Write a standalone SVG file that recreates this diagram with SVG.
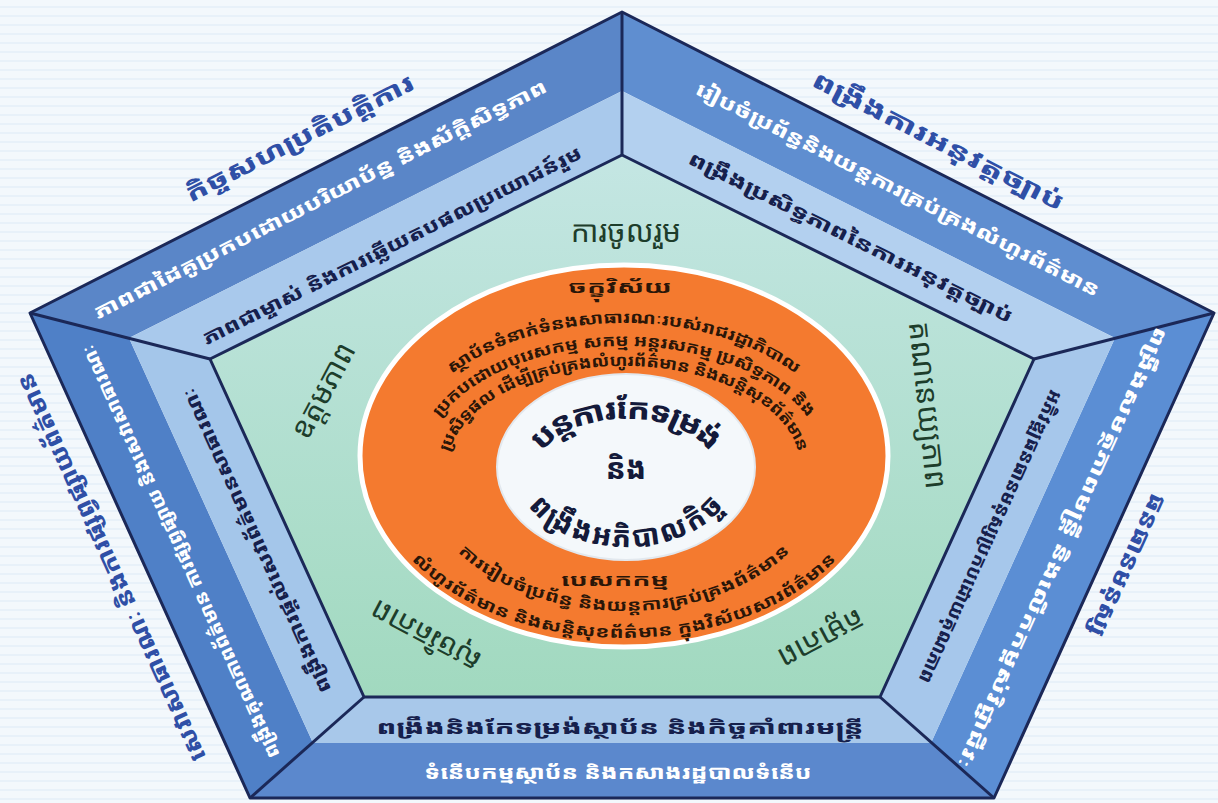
<svg xmlns="http://www.w3.org/2000/svg" width="1218" height="803" viewBox="0 0 1218 803">
<defs>
<style>
text{font-family:"Noto Sans Khmer","Khmer OS","Khmer OS System","Hanuman","Battambang","Noto Sans","DejaVu Sans",sans-serif;}
.lbl{fill:#2f4fa6;font-weight:800;font-size:24px;text-anchor:middle;dominant-baseline:central;}
.wt{fill:#ffffff;font-weight:800;font-size:19px;text-anchor:middle;dominant-baseline:central;}
.dk{fill:#16204c;font-weight:800;font-size:19px;text-anchor:middle;dominant-baseline:central;}
.gr{fill:#1d3d2b;font-size:30px;text-anchor:middle;dominant-baseline:central;}
.or{fill:#2a1608;font-weight:bold;font-size:16px;text-anchor:middle;dominant-baseline:central;}
.ce{fill:#141a3a;font-weight:800;font-size:29px;text-anchor:middle;dominant-baseline:central;}
.edge{fill:none;stroke:#1b2858;stroke-width:3;stroke-linejoin:round;}
</style>
<pattern id="stripes" width="10" height="9" patternUnits="userSpaceOnUse">
<rect width="10" height="9" fill="#f3f8fc"/>
<rect y="6" width="10" height="2" fill="#e8f1f9"/>
</pattern>
<linearGradient id="green" x1="0" y1="0" x2="0" y2="1">
<stop offset="0" stop-color="#c4e6e3"/>
<stop offset="1" stop-color="#a1d9bf"/>
</linearGradient>
<path id="v1" d="M 393,466 A 231,149 0 0 1 855,466"/>
<path id="v2" d="M 417,466 A 207,126 0 0 1 831,466"/>
<path id="v3" d="M 442,466 A 182,106 0 0 1 806,466"/>
<path id="m1" d="M 424,466 A 200,139 0 0 0 824,466"/>
<path id="m2" d="M 377,466 A 247,166 0 0 0 871,466"/>
<path id="c1" d="M 526,467 A 100,60 0 0 1 726,467"/>
<path id="c2" d="M 526,467 A 100,68 0 0 0 726,467"/>
</defs>

<rect width="1218" height="803" fill="url(#stripes)"/>

<g id="frame">
<polygon points="30,313 622,12 622,91 129,338" fill="#5a86c8"/>
<polygon points="129,338 622,91 622,155 210,359" fill="#a9c9ec"/>
<polygon points="622,12 1214,313 1115,338 622,91" fill="#5f8ed0"/>
<polygon points="622,91 1115,338 1034,359 622,155" fill="#b3d0ef"/>
<polygon points="1214,313 994,798 931,743 1115,338" fill="#5b8ed4"/>
<polygon points="1115,338 931,743 880,697 1034,359" fill="#a6c7eb"/>
<polygon points="994,798 250,798 313,743 931,743" fill="#5b88cd"/>
<polygon points="931,743 313,743 364,697 880,697" fill="#a8c8ea"/>
<polygon points="250,798 30,313 129,338 313,743" fill="#4f80c7"/>
<polygon points="313,743 129,338 210,359 364,697" fill="#a4c6ea"/>
<polygon points="622,155 1034,359 880,697 364,697 210,359" fill="url(#green)"/>
<polygon class="edge" points="622,12 1214,313 994,798 250,798 30,313"/>
<polygon class="edge" points="622,155 1034,359 880,697 364,697 210,359"/>
<line class="edge" x1="622" y1="12" x2="622" y2="155"/>
<line class="edge" x1="1214" y1="313" x2="1034" y2="359"/>
<line class="edge" x1="994" y1="798" x2="880" y2="697"/>
<line class="edge" x1="250" y1="798" x2="364" y2="697"/>
<line class="edge" x1="30" y1="313" x2="210" y2="359"/>
</g>

<g id="pillar-top-left">
<text class="lbl" transform="translate(299,137) rotate(-26.9)" textLength="253" lengthAdjust="spacingAndGlyphs">កិច្ចសហប្រតិបត្តិការ</text>
<text class="wt" transform="translate(320,199) rotate(-26.9)" textLength="505" lengthAdjust="spacingAndGlyphs">ភាពជាដៃគូប្រកបដោយបរិយាប័ន្ន និងស័ក្តិសិទ្ធភាព</text>
<text class="dk" transform="translate(392,245) rotate(-26.5)" textLength="421" lengthAdjust="spacingAndGlyphs">ភាពជាម្ចាស់ និងការឆ្លើយតបផលប្រយោជន៍រួម</text>
</g>

<g id="pillar-top-right">
<text class="lbl" transform="translate(939,140) rotate(26.9)" textLength="279" lengthAdjust="spacingAndGlyphs">ពង្រឹងការអនុវត្តច្បាប់</text>
<text class="wt" transform="translate(898,189) rotate(26.9)" textLength="450" lengthAdjust="spacingAndGlyphs">រៀបចំប្រព័ន្ធនិងយន្តការគ្រប់គ្រងលំហូរព័ត៌មាន</text>
<text class="dk" transform="translate(851,237) rotate(26.5)" textLength="360" lengthAdjust="spacingAndGlyphs">ពង្រឹងប្រសិទ្ធភាពនៃការអនុវត្តច្បាប់</text>
</g>

<g id="pillar-right">
<text class="lbl" transform="translate(1129,566) rotate(114.5)" textLength="155" lengthAdjust="spacingAndGlyphs">ធនធានមនុស្ស</text>
<text class="wt" transform="translate(1063,548) rotate(114.5)" textLength="482" lengthAdjust="spacingAndGlyphs">ពង្រឹងសមត្ថភាពមន្ត្រី និងលើកកម្ពស់វិជ្ជាជីវៈ</text>
<text class="dk" transform="translate(991,537) rotate(114.5)" textLength="320" lengthAdjust="spacingAndGlyphs">អភិវឌ្ឍធនធានមនុស្សប្រកបដោយគុណភាព</text>
</g>

<g id="pillar-bottom">
<text class="dk" x="620" y="727" textLength="487" lengthAdjust="spacingAndGlyphs">ពង្រឹងនិងកែទម្រង់ស្ថាប័ន និងកិច្ចគាំពារមន្ត្រី</text>
<text class="wt" x="618" y="772" textLength="387" lengthAdjust="spacingAndGlyphs">ទំនើបកម្មស្ថាប័ន និងកសាងរដ្ឋបាលទំនើប</text>
</g>

<g id="pillar-left">
<text class="lbl" transform="translate(110,568) rotate(-114.5)" textLength="424" lengthAdjust="spacingAndGlyphs">សេវាសាធារណៈ និងការផ្សព្វផ្សាយព័ត៌មាន</text>
<text class="wt" transform="translate(180,552) rotate(-114.5)" textLength="452" lengthAdjust="spacingAndGlyphs">ពង្រឹងគុណភាពព័ត៌មាន ការផ្សព្វផ្សាយ និងសេវាសាធារណៈ</text>
<text class="dk" transform="translate(256,541) rotate(-114.5)" textLength="333" lengthAdjust="spacingAndGlyphs">ពង្រឹងការផ្តល់សេវាព័ត៌មានសាធារណៈ</text>
</g>

<g id="values">
<text class="gr" x="626" y="230" font-size="34">ការចូលរួម</text>
<text class="gr" transform="translate(929,405) rotate(84)">គណនេយ្យភាព</text>
<text class="gr" transform="translate(822,640) rotate(152)">តម្លាភាព</text>
<text class="gr" transform="translate(425,637) rotate(-152)">សុចរិតភាព</text>
<text class="gr" transform="translate(322,390) rotate(-62)">ឧត្តមភាព</text>
</g>

<g id="vision-mission">
<ellipse cx="624" cy="456" rx="264" ry="191" fill="#f47a2f" stroke="#ffffff" stroke-width="5"/>
<text class="or" x="620" y="287" font-size="19" textLength="104" lengthAdjust="spacingAndGlyphs">ចក្ខុវិស័យ</text>
<text class="or"><textPath href="#v1" startOffset="50%" textLength="372" lengthAdjust="spacingAndGlyphs">ស្ថាប័នទំនាក់ទំនងសាធារណៈរបស់រាជរដ្ឋាភិបាល</textPath></text>
<text class="or"><textPath href="#v2" startOffset="50%" textLength="418" lengthAdjust="spacingAndGlyphs">ប្រកបដោយបុរេសកម្ម សកម្ម អន្តរសកម្ម ប្រសិទ្ធភាព និង</textPath></text>
<text class="or"><textPath href="#v3" startOffset="50%" textLength="428" lengthAdjust="spacingAndGlyphs">ប្រសិទ្ធផល ដើម្បីគ្រប់គ្រងលំហូរព័ត៌មាន និងសន្តិសុខព័ត៌មាន</textPath></text>
<text class="or" x="615" y="580" font-size="19" textLength="108" lengthAdjust="spacingAndGlyphs">បេសកកម្ម</text>
<text class="or"><textPath href="#m1" startOffset="50%" textLength="352" lengthAdjust="spacingAndGlyphs">ការរៀបចំប្រព័ន្ធ និងយន្តការគ្រប់គ្រងព័ត៌មាន</textPath></text>
<text class="or"><textPath href="#m2" startOffset="50%" textLength="455" lengthAdjust="spacingAndGlyphs">លំហូរព័ត៌មាន និងសន្តិសុខព័ត៌មាន ក្នុងវិស័យសារព័ត៌មាន</textPath></text>
</g>

<g id="core">
<ellipse cx="626" cy="467" rx="129" ry="93" fill="#f4f8fb" stroke="#e2e8ee" stroke-width="2"/>
<text class="ce"><textPath href="#c1" startOffset="50%" textLength="205" lengthAdjust="spacingAndGlyphs">បន្តការកែទម្រង់</textPath></text>
<text class="ce" x="626" y="467" font-weight="normal" font-size="24">និង</text>
<text class="ce" font-size="27"><textPath href="#c2" startOffset="50%" textLength="200" lengthAdjust="spacingAndGlyphs">ពង្រឹងអភិបាលកិច្ច</textPath></text>
</g>
</svg>
